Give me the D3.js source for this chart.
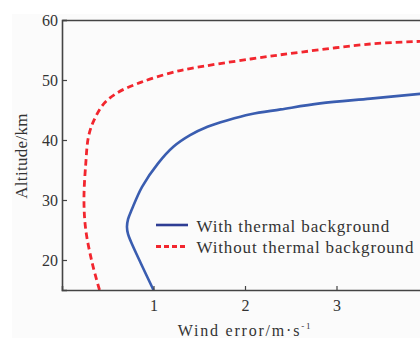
<!DOCTYPE html>
<html><head><meta charset="utf-8">
<script src="https://cdn.jsdelivr.net/npm/d3@7"></script>
<style>body{margin:0;background:#fff}svg{display:block}text{font-family:"Liberation Serif","Times New Roman",Times,serif;fill:#333}</style>
</head><body>
<script>
const xTicks = [1, 2, 3];
const yTicks = [20, 30, 40, 50, 60];
const altWith = [15, 19.5, 23.0, 24.3, 25.5, 26.8, 28.5, 32.2, 36.1, 38.9, 40.8, 42.2, 43.3, 44.3, 45.1, 46.1, 46.9, 47.7, 47.85];
const errWith = [1.0, 0.86, 0.755, 0.722, 0.71, 0.722, 0.765, 0.875, 1.05, 1.22, 1.40, 1.59, 1.81, 2.06, 2.39, 2.82, 3.37, 3.92, 4.05];
const altWithout = [15, 19.5, 25, 30, 36.1, 40.6, 43.3, 46.1, 48.0, 49.6, 51.2, 51.9, 53.5, 54.7, 56.0, 56.45, 56.55];
const errWithout = [0.41, 0.33, 0.26, 0.24, 0.26, 0.29, 0.35, 0.46, 0.62, 0.86, 1.19, 1.40, 2.06, 2.64, 3.37, 3.92, 4.05];
const legendLabels = ["With thermal background", "Without thermal background"];

const W = 420, H = 342;
const svg = d3.select("body").append("svg").attr("width", W).attr("height", H);
svg.append("rect").attr("x", 12).attr("y", 14).attr("width", W - 12).attr("height", 324).attr("fill", "#fbfbfb");

const x = d3.scaleLinear().domain([0, 4]).range([62, 428]);
const y = d3.scaleLinear().domain([15, 60]).range([290, 20]);

svg.append("clipPath").attr("id", "clip").append("rect")
  .attr("x", 62).attr("y", 20).attr("width", 366).attr("height", 270);

const line = d3.line().x(d => x(d[0])).y(d => y(d[1])).curve(d3.curveCatmullRom.alpha(0.5));
const g = svg.append("g").attr("clip-path", "url(#clip)");
g.append("path").datum(errWithout.map((e, i) => [e, altWithout[i]]))
  .attr("d", line).attr("fill", "none").attr("stroke", "#f2262e").attr("stroke-width", 2.8).attr("stroke-dasharray", "6.5,4");
g.append("path").datum(errWith.map((e, i) => [e, altWith[i]]))
  .attr("d", line).attr("fill", "none").attr("stroke", "#3a5db0").attr("stroke-width", 2.6);

// axes
const ax = svg.append("g").attr("transform", "translate(0,290)")
  .call(d3.axisBottom(x).tickValues(xTicks).tickSize(-4).tickPadding(10).tickFormat(d3.format("d")));
const ay = svg.append("g").attr("transform", "translate(62,0)")
  .call(d3.axisLeft(y).tickValues(yTicks).tickSize(-5).tickPadding(4).tickFormat(d3.format("d")));
const axTop = svg.append("g").attr("transform", "translate(0,20)")
  .call(d3.axisTop(x).tickValues([]).tickSize(0));
[ax, ay, axTop].forEach(a => {
  a.attr("font-family", null);
  a.selectAll("path").attr("stroke", "#444").attr("stroke-width", 1.6);
  a.selectAll("line").attr("stroke", "#444").attr("stroke-width", 1.2);
  a.selectAll("text").attr("font-size", 16).attr("fill", "#333");
});

// titles
svg.append("text").attr("transform", "translate(27,156) rotate(-90)").attr("text-anchor", "middle")
  .attr("font-size", 17).attr("letter-spacing", 0.3).text("Altitude/km");
const xt = svg.append("text").attr("x", 245).attr("y", 336).attr("text-anchor", "middle").attr("font-size", 16).attr("letter-spacing", 1.8);
xt.append("tspan").text("Wind error/m·s");
xt.append("tspan").attr("dy", -7).attr("font-size", 9).text("-1");

// legend
const leg = svg.append("g");
const ly = [225, 246.5];
leg.append("line").attr("x1", 156).attr("x2", 188).attr("y1", ly[0]).attr("y2", ly[0]).attr("stroke", "#2e3d94").attr("stroke-width", 2.6);
leg.append("line").attr("x1", 156).attr("x2", 188).attr("y1", ly[1]).attr("y2", ly[1]).attr("stroke", "#f2262e").attr("stroke-width", 2.8).attr("stroke-dasharray", "5,3");
legendLabels.forEach((t, i) => {
  leg.append("text").attr("x", 196.5).attr("y", ly[i] + 6.5).attr("font-size", 17).attr("letter-spacing", 0.85).text(t);
});
</script>
</body></html>
